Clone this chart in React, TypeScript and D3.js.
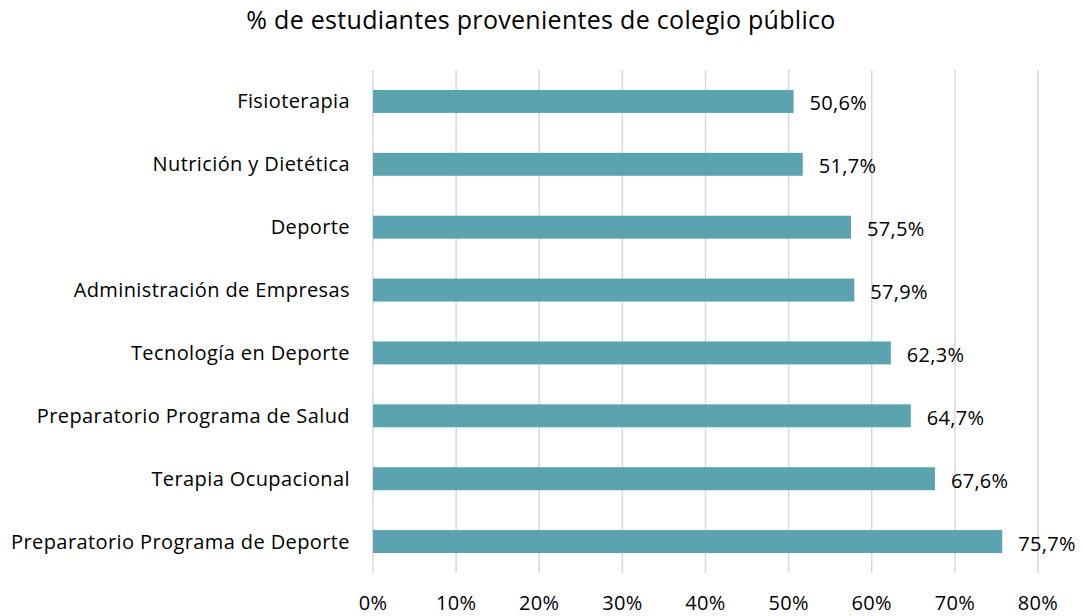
import React, { useEffect, useRef } from "react";
import * as d3 from "d3";

const categories = [
  "Fisioterapia",
  "Nutrición y Dietética",
  "Deporte",
  "Administración de Empresas",
  "Tecnología en Deporte",
  "Preparatorio Programa de Salud",
  "Terapia Ocupacional",
  "Preparatorio Programa de Deporte",
];
const values = [50.6, 51.7, 57.5, 57.9, 62.3, 64.7, 67.6, 75.7];
const xTicks = [0, 10, 20, 30, 40, 50, 60, 70, 80];
const title = "% de estudiantes provenientes de colegio público";

const App = () => {
  const ref = useRef<SVGSVGElement>(null);

  useEffect(() => {
    if (!ref.current) return;
    const svg = d3.select(ref.current);
    svg.selectAll("*").remove();

    const width = 1083;
    const height = 616;
    const font = "'Open Sans', sans-serif";

    const x = d3.scaleLinear().domain([0, 80]).range([373, 1038]);
    const y = d3.scaleBand().domain(categories).range([70, 573]).paddingInner(0.635).paddingOuter(0.3175);

    svg.append("rect").attr("width", width).attr("height", height).attr("fill", "#fff");

    // titulo
    svg
      .append("text")
      .attr("x", 541)
      .attr("y", 29)
      .attr("text-anchor", "middle")
      .attr("font-family", font)
      .attr("font-size", 25)
      .attr("letter-spacing", 0.3)
      .attr("fill", "#000")
      .text(title);

    // lineas de cuadricula
    svg
      .selectAll(".grid")
      .data(xTicks)
      .enter()
      .append("line")
      .attr("x1", (d) => x(d))
      .attr("x2", (d) => x(d))
      .attr("y1", 70)
      .attr("y2", 573)
      .attr("stroke", "#d9d9d9")
      .attr("stroke-width", 1.5);

    svg
      .selectAll(".tick")
      .data(xTicks)
      .enter()
      .append("text")
      .attr("x", (d) => x(d))
      .attr("y", 610)
      .attr("text-anchor", "middle")
      .attr("font-family", font)
      .attr("font-size", 20)
      .attr("letter-spacing", 0.3)
      .attr("fill", "#000")
      .text((d) => `${d}%`);

    const rows = categories.map((c, i) => ({ c, v: values[i] }));

    svg
      .selectAll(".bar")
      .data(rows)
      .enter()
      .append("rect")
      .attr("x", x(0))
      .attr("y", (d) => y(d.c)!)
      .attr("width", (d) => x(d.v) - x(0))
      .attr("height", y.bandwidth())
      .attr("fill", "#5ba3ae");

    svg
      .selectAll(".cat")
      .data(rows)
      .enter()
      .append("text")
      .attr("x", 350)
      .attr("y", (d) => y(d.c)! + y.bandwidth() / 2)
      .attr("dy", "0.35em")
      .attr("text-anchor", "end")
      .attr("font-family", font)
      .attr("font-size", 20)
      .attr("letter-spacing", 0.4)
      .attr("fill", "#000")
      .text((d) => d.c);

    svg
      .selectAll(".val")
      .data(rows)
      .enter()
      .append("text")
      .attr("x", (d) => x(d.v) + 16)
      .attr("y", (d) => y(d.c)! + y.bandwidth() / 2 + 2)
      .attr("dy", "0.35em")
      .attr("font-family", font)
      .attr("font-size", 20)
      .attr("letter-spacing", 0.3)
      .attr("fill", "#000")
      .text((d) => `${d.v.toFixed(1).replace(".", ",")}%`);
  }, []);

  return (
    <div style={{ position: "absolute", left: 0, top: 0 }}>
      <svg ref={ref} width={1083} height={616} style={{ display: "block" }}></svg>
    </div>
  );
};

export default App;
